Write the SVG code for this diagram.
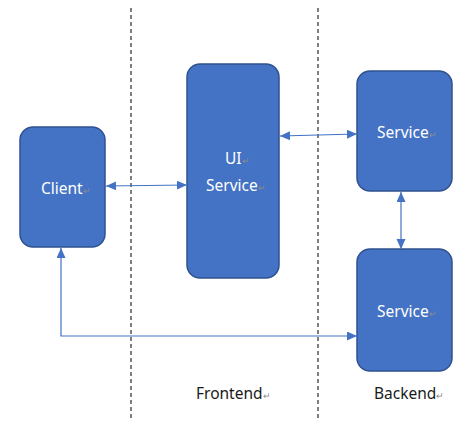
<svg xmlns="http://www.w3.org/2000/svg" width="464" height="430" viewBox="0 0 464 430">
<style>
.box{fill:#4472C4;stroke:#2F528F;stroke-width:1.5}
.lbl{font-family:"Noto Sans","Liberation Sans",sans-serif;font-size:15.5px;fill:#ffffff}
.cap{font-family:"Noto Sans","Liberation Sans",sans-serif;font-size:15.5px;fill:#1a1a1a}
.pm{font-size:9px;fill:#8c8c8c}
.conn{fill:none;stroke:#4472C4;stroke-width:1.2}
.sep{stroke:#000;stroke-width:1;stroke-dasharray:4 3}
</style>
<defs>
<marker id="ah" markerUnits="userSpaceOnUse" markerWidth="12" markerHeight="10" refX="10" refY="4.5" orient="auto-start-reverse">
<path d="M0,0 L10,4.5 L0,9 Z" fill="#4472C4"/>
</marker>
</defs>
<g id="separators">
<line class="sep" x1="131" y1="8" x2="131" y2="418"/>
<line class="sep" x1="318" y1="8" x2="318" y2="418"/>
</g>
<g id="client">
<rect class="box" x="20" y="127" width="85" height="120" rx="13"/>
<text class="lbl" x="41" y="194">Client<tspan class="pm">↵</tspan></text>
</g>
<g id="ui-service">
<rect class="box" x="187" y="64" width="92" height="214" rx="13"/>
<text class="lbl" x="225" y="164">UI<tspan class="pm">↵</tspan></text>
<text class="lbl" x="206" y="191">Service<tspan class="pm">↵</tspan></text>
</g>
<g id="service-1">
<rect class="box" x="357" y="71" width="95" height="120" rx="13"/>
<text class="lbl" x="377" y="138">Service<tspan class="pm">↵</tspan></text>
</g>
<g id="service-2">
<rect class="box" x="357" y="249" width="95" height="122" rx="13"/>
<text class="lbl" x="377" y="317">Service<tspan class="pm">↵</tspan></text>
</g>
<g id="frontend-label">
<text class="cap" x="196" y="399">Frontend<tspan class="pm">↵</tspan></text>
</g>
<g id="backend-label">
<text class="cap" x="374" y="399">Backend<tspan class="pm">↵</tspan></text>
</g>
<g id="connectors">
<line class="conn" x1="106" y1="186" x2="187" y2="185" marker-start="url(#ah)" marker-end="url(#ah)"/>
<line class="conn" x1="280" y1="136" x2="357" y2="134" marker-start="url(#ah)" marker-end="url(#ah)"/>
<line class="conn" x1="401" y1="192" x2="401" y2="249" marker-start="url(#ah)" marker-end="url(#ah)"/>
<polyline class="conn" points="61,248 61,336 357,336" marker-start="url(#ah)" marker-end="url(#ah)"/>
</g>
</svg>
